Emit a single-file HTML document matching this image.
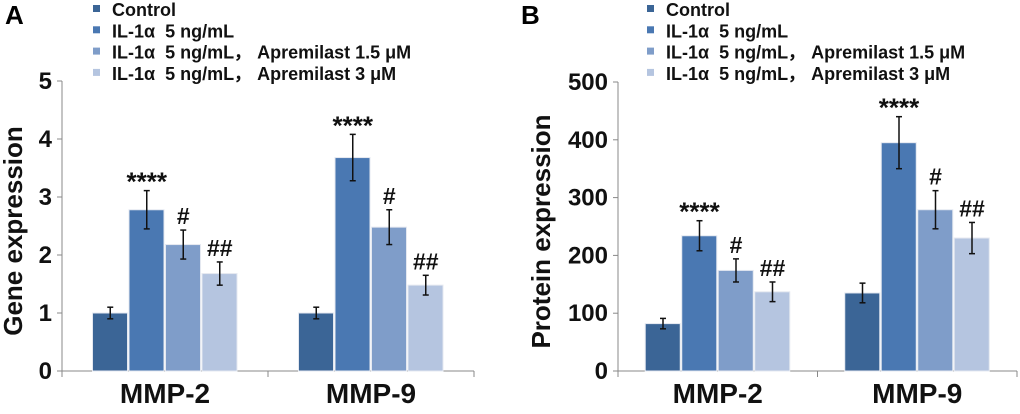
<!DOCTYPE html>
<html><head><meta charset="utf-8"><style>
body{margin:0;background:#fff;width:1020px;height:409px;overflow:hidden}
svg text{font-family:"Liberation Sans",Arial,sans-serif;font-weight:bold;white-space:pre}
</style></head><body>
<svg id="chart" width="1020" height="409" xmlns="http://www.w3.org/2000/svg"></svg>
<script>
const categories=["MMP-2","MMP-9"];
const seriesNames=["Control","IL-1α\u00a0 5 ng/mL","IL-1α\u00a0 5 ng/mL，\u00a0Apremilast 1.5 μM","IL-1α\u00a0 5 ng/mL，\u00a0Apremilast 3 μM"];
const geneValues=[[1,1],[2.78,3.68],[2.18,2.48],[1.68,1.48]];
const geneErrors=[[0.1,0.1],[0.33,0.4],[0.25,0.3],[0.2,0.17]];
const proteinValues=[[82,135],[234,395],[174,279],[137,230]];
const proteinErrors=[[9,17],[26,45],[20,33],[17,27]];
const marks=["","****","#","##"];
const geneTicks=[0,1,2,3,4,5];
const proteinTicks=[0,100,200,300,400,500];
const colors=["#3b6596","#4a78b2","#7f9dc9","#b5c5e0"];
const NS="http://www.w3.org/2000/svg";
const svg=document.getElementById('chart');
function mk(t,a,p){const e=document.createElementNS(NS,t);for(const k in a)e.setAttribute(k,a[k]);(p||svg).appendChild(e);return e;}
function panel(o){
  const g=mk('g',{});
  
  
  const y=v=>o.y0-(v/o.max)*(o.y0-o.yTop);
  const lbl=mk('text',{x:o.letterX,y:24,'font-size':26},g);lbl.textContent=o.letter;
  
  
  seriesNames.forEach((n,i)=>{
    const r=mk('rect',{x:o.legX,y:5+i*21.3,width:7,height:7,fill:colors[i]},g);
    
    
    const t=mk('text',{x:o.legX+19,y:16+i*21.3,'font-size':18,fill:'#111'},g);t.textContent=n;
    
    
  });
  const ya=mk('line',{x1:o.ax,y1:o.yTop,x2:o.ax,y2:o.y0,stroke:'#888','stroke-width':1},g);
  
  
  const xa=mk('line',{x1:o.ax,y1:o.y0,x2:o.axEnd,y2:o.y0,stroke:'#888','stroke-width':1},g);
  
  
  const mid=(o.ax+o.axEnd)/2;
  [o.ax,mid,o.axEnd].forEach(x=>mk('line',{x1:x,y1:o.y0,x2:x,y2:o.y0+6,stroke:'#888'},g));
  o.ticks.forEach(v=>{
    mk('line',{x1:o.ax-5,y1:y(v),x2:o.ax,y2:y(v),stroke:'#888'},g);
    const t=mk('text',{x:o.ax-10,y:y(v)+8,'font-size':24,'text-anchor':'end',fill:'#111'},g);t.textContent=v;
    
    
  });
  const yt=mk('text',{x:0,y:0,'font-size':26,'text-anchor':'middle',fill:'#111',transform:`translate(${o.titleX},${(o.yTop+o.y0)/2+5}) rotate(-90)`},g);
  yt.textContent=o.title;
  
  
  const gw=(o.axEnd-o.ax)/2, bw=36.5;
  categories.forEach((c,ci)=>{
    const cx=o.ax+gw*(ci+0.5);
    const t=mk('text',{x:cx,y:403,'font-size':28,'text-anchor':'middle',fill:'#111'},g);t.textContent=c;
    
    
    for(let s=0;s<4;s++){
      const v=o.vals[s][ci],e=o.errs[s][ci];
      const x=cx-2*bw+s*bw;
      const b=mk('rect',{x:x+0.5,y:y(v),width:bw-1.5,height:o.y0-y(v),fill:colors[s],stroke:'#e4e8f0','stroke-width':1},g);
      
      
      const ex=x+bw/2;
      mk('line',{x1:ex,y1:y(v+e),x2:ex,y2:y(v-e),stroke:'#111','stroke-width':1.5},g);
      mk('line',{x1:ex-3,y1:y(v+e),x2:ex+3,y2:y(v+e),stroke:'#111','stroke-width':1.5},g);
      mk('line',{x1:ex-3,y1:y(v-e),x2:ex+3,y2:y(v-e),stroke:'#111','stroke-width':1.5},g);
      if(marks[s]){
        const m=mk('text',{x:ex,y:y(v+e)-(s==1?0:6),'font-size':s==1?26:23,'text-anchor':'middle',fill:'#111'},g);
        m.textContent=marks[s];
        
        
      }
    }
  });
}
panel({name:'panel-a-gene',letter:'A',letterX:5,legX:93,ax:62,axEnd:474,y0:371,yTop:81,max:5,ticks:geneTicks,vals:geneValues,errs:geneErrors,title:'Gene expression',titleX:22,shift:0});
panel({name:'panel-b-protein',letter:'B',letterX:521,legX:647,ax:618,axEnd:1017,y0:371,yTop:82,max:500,ticks:proteinTicks,vals:proteinValues,errs:proteinErrors,title:'Protein expression',titleX:550,shift:0});
</script>
</body></html>
